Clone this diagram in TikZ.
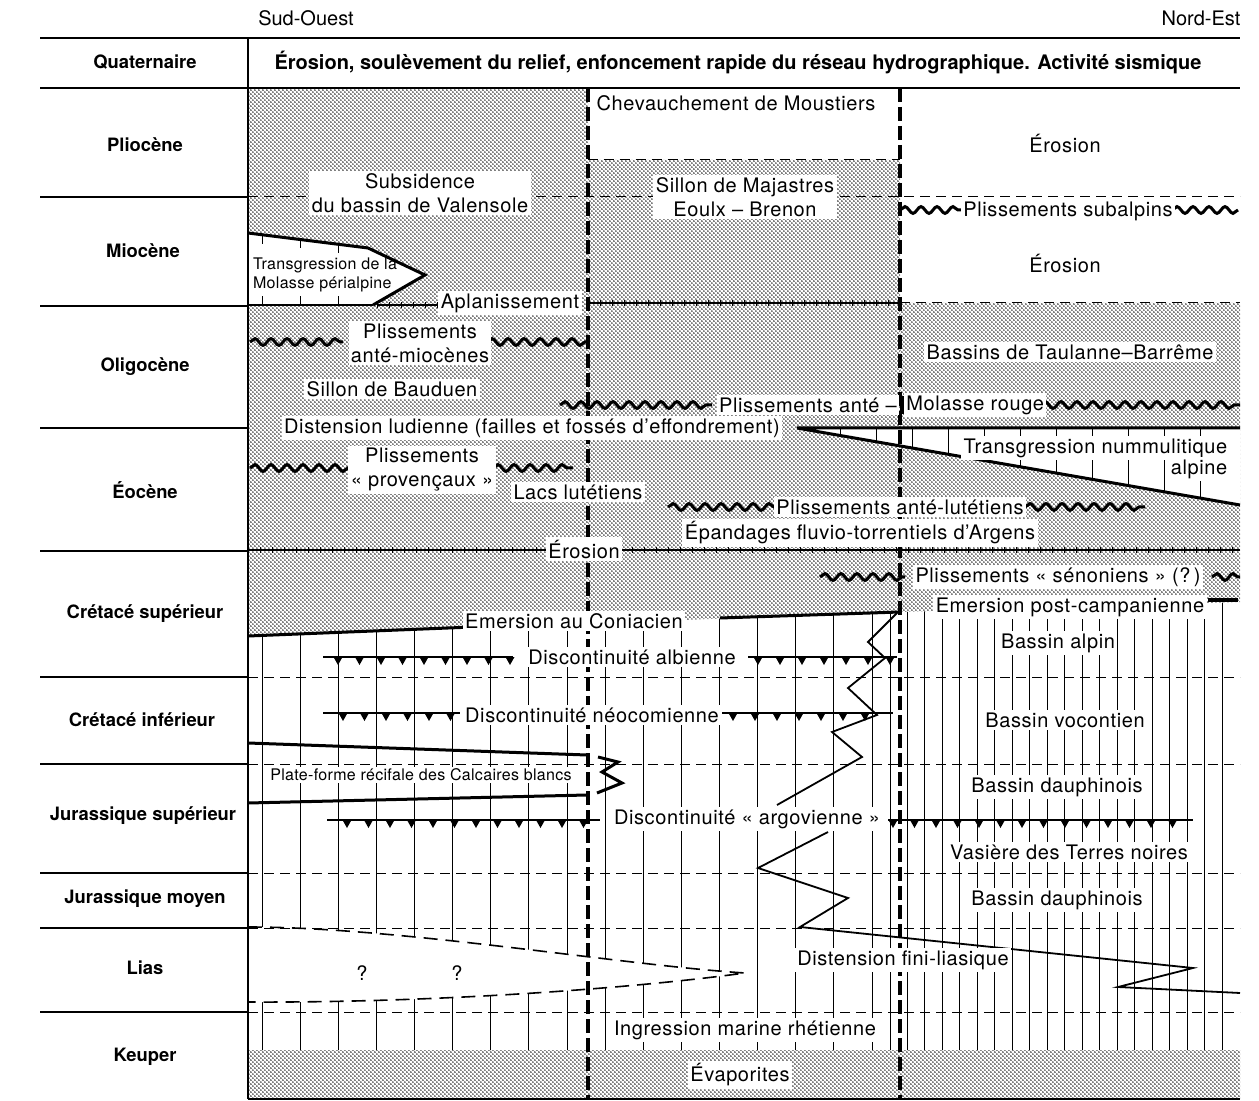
\documentclass[tikz,border=0pt]{standalone}
\usepackage{fontspec}
\setmainfont{TeX Gyre Heros}
\newfontfamily\spacedfont[LetterSpace=3,Ligatures=TeX]{TeX Gyre Heros}
\newfontfamily\notefont[LetterSpace=2,Ligatures=TeX]{TeX Gyre Heros}
\usetikzlibrary{positioning,decorations.pathmorphing,decorations.markings,patterns.meta}

\tikzdeclarepattern{
  name=stipple,
  type=uncolored,
  bounding box={(0pt,0pt) and (2.2pt,2.2pt)},
  tile size={(2.2pt,2.2pt)},
  code={
    \pgfpathcircle{\pgfqpoint{0.55pt}{0.55pt}}{0.45pt}
    \pgfpathcircle{\pgfqpoint{1.65pt}{1.65pt}}{0.45pt}
    \pgfusepath{fill}
  }
}

\begin{document}
\begin{tikzpicture}[x=0.5pt,y=-0.5pt,
  era/.style={font=\fontsize{9.2}{11}\selectfont\bfseries},
  lbl/.style={fill=white,inner sep=1.2pt,font=\spacedfont\fontsize{10}{12}\selectfont,align=center},
  note/.style={inner sep=1pt,font=\notefont\fontsize{8}{9.5}\selectfont,align=left},
  frame/.style={line width=1pt},
  rowline/.style={line width=0.8pt},
  rowdash/.style={line width=0.5pt,dash pattern=on 5pt off 3pt},
  lensdash/.style={line width=0.8pt,dash pattern=on 7pt off 4pt},
  fault/.style={line width=1.6pt,dash pattern=on 7pt off 2.5pt},
  vline/.style={line width=0.45pt},
  thickl/.style={line width=1.5pt},
  zig/.style={line width=0.9pt,line join=miter},
  disc/.style={line width=1pt},
  fold/.style={line width=1.5pt,decorate,decoration={snake,amplitude=1.7pt,segment length=8pt}},
  barb/.style={line width=0.6pt,postaction={decorate,decoration={markings,
      mark=between positions 0 and 1 step 6pt with {\draw[line width=0.5pt] (0pt,-1.6pt) -- (0pt,1.6pt);}}}},
  stip/.style={pattern=stipple,pattern color=black},
]
  \useasboundingbox (0,0) rectangle (1259,1101);

  % Stippled (detrital) series
  \fill[stip] (248,88) -- (588,88) -- (588,623.5) -- (248,636) -- cycle;
  \fill[stip] (588,160) -- (900,160) -- (900,612) -- (588,623.5) -- cycle;
  \fill[stip] (900,303) -- (1240,303) -- (1240,602) -- (900,612) -- cycle;
  \fill[stip] (248,1050) rectangle (1240,1098);
  \fill[white] (248,233) -- (368,248) -- (425,275) -- (373,305) -- (248,305) -- cycle;
  \fill[white] (797,428) -- (1240,428) -- (1240,505) -- cycle;

  % Limestone hatching
  \begin{scope}
    \clip (248,636) -- (900,612) -- (1240,602) -- (1240,1050) -- (248,1050) -- cycle;
    \foreach \k in {0,...,16}
      \draw[vline] ({262+38.125*\k},590) -- ++(0,470);
    \draw[vline] (890,590) -- ++(0,470);
    \foreach \k in {0,...,18}
      \draw[vline] ({907+17.5*\k},590) -- ++(0,470);
  \end{scope}

  % Lias lens
  \fill[white] (248,927) .. controls (400,927) and (620,965) .. (745,973)
               .. controls (620,990) and (420,1003) .. (248,1002) -- cycle;

  % Stage boundaries
  \foreach \y in {197,677,764,873,928,1012}
    \draw[rowdash] (248,\y) -- (1240,\y);
  \draw[rowdash] (588,160) -- (900,160);
  \draw[rowdash] (900,303) -- (1240,303);
  \draw[lensdash] (248,927) .. controls (400,927) and (620,965) .. (745,973)
                  .. controls (620,990) and (420,1003) .. (248,1002);

  % Transgressions and emersions
  \draw[thickl] (248,233) -- (368,248) -- (425,275) -- (373,305);
  \foreach \x in {262,300,338} {
    \draw[vline] (\x,{233+(\x-248)/120*15}) -- ++(0,9);
    \draw[vline] (\x,305) -- ++(0,-9);
  }
  \draw[thickl] (1240,428) -- (797,428) -- (1240,505);
  \foreach \x in {840,876,...,1235}
    \draw[vline] (\x,428) -- (\x,{428+(\x-797)/443*77});
  \draw[thickl] (248,636) -- (473,627);
  \draw[thickl] (720,618) -- (900,612);
  \draw[thickl] (1208,600) -- (1238,600);
  \draw[thickl] (248,743) -- (587,755);
  \draw[thickl] (248,803) -- (587,795);
  \draw[thickl] (598,757) -- (618,762) -- (602,772) -- (622,783) -- (597,793);

  % Facies interfingering
  \draw[zig] (897,613) -- (868,642) -- (885,658) -- (848,688) -- (877,715)
             -- (832,732) -- (862,757) -- (777,805);
  \draw[zig] (828,832) -- (758,868) -- (848,898) -- (800,927) -- (1193,968)
             -- (1118,987) -- (1240,993);

  % Discontinuities
  \draw[disc] (323,657) -- (513,657);
  \foreach \x in {338,359.5,...,510}
    \fill (\x-4.5,657) -- (\x+4.5,657) -- (\x,665) -- cycle;
  \draw[disc] (748,657) -- (897,657);
  \foreach \x in {758,780,...,895}
    \fill (\x-4.5,657) -- (\x+4.5,657) -- (\x,665) -- cycle;
  \draw[disc] (323,713) -- (460,713);
  \foreach \x in {343,364.5,...,455}
    \fill (\x-4.5,713) -- (\x+4.5,713) -- (\x,721) -- cycle;
  \draw[disc] (722,713) -- (893,713);
  \foreach \x in {733,755,...,880}
    \fill (\x-4.5,713) -- (\x+4.5,713) -- (\x,721) -- cycle;
  \draw[disc] (327,820) -- (600,820);
  \foreach \x in {347,368.5,...,590}
    \fill (\x-4.5,820) -- (\x+4.5,820) -- (\x,828) -- cycle;
  \draw[disc] (888,820) -- (1193,820);
  \foreach \x in {893,914.5,...,1190}
    \fill (\x-4.5,820) -- (\x+4.5,820) -- (\x,828) -- cycle;

  % Erosion / planation surfaces
  \draw[barb] (377,305) -- (440,305);
  \draw[barb] (588,303) -- (900,303);
  \draw[barb] (248,550) -- (548,550);
  \draw[barb] (620,550) -- (1240,550);

  % Folding phases
  \draw[fold] (900,210) -- (962,210);
  \draw[fold] (1172,210) -- (1238,210);
  \draw[fold] (250,342) -- (343,342);
  \draw[fold] (487,342) -- (587,342);
  \draw[fold] (560,405) -- (712,405);
  \draw[fold] (1040,405) -- (1240,405);
  \draw[fold] (250,468) -- (350,468);
  \draw[fold] (493,468) -- (573,468);
  \draw[fold] (668,507) -- (775,507);
  \draw[fold] (1025,507) -- (1145,507);
  \draw[fold] (820,577) -- (905,577);
  \draw[fold] (1212,577) -- (1240,577);

  % Faults
  \draw[fault] (588,88) -- (588,1098);
  \draw[fault] (900,88) -- (900,1098);

  % Table frame
  \draw[frame] (40,38) -- (1240,38);
  \draw[frame] (40,88) -- (1240,88);
  \draw[frame] (248,38) -- (248,1099);
  \draw[frame] (248,1099) -- (1240,1099);
  \foreach \y in {197,306,428,551,677,764,873,928,1012}
    \draw[rowline] (40,\y) -- (248,\y);
  \draw[rowline] (248,305) -- (373,305);

  % Orientation
  \node[font=\fontsize{10}{12}\selectfont] (so) at (306,18) {Sud-Ouest};
  \node[font=\fontsize{10}{12}\selectfont] (ne) at (1201,18) {Nord-Est};

  % Stratigraphic column
  \node[era] (quat) at (145,62) {Quaternaire};
  \node[era] (plio) at (145,145) {Pliocène};
  \node[era] (mio) at (143,251) {Miocène};
  \node[era] (oligo) at (145,367) {Oligocène};
  \node[era] (eoc) at (145,490) {Éocène};
  \node[era] (crs) at (145,614) {Crétacé supérieur};
  \node[era] (cri) at (142,720) {Crétacé inférieur};
  \node[era] (jrs) at (143,816) {Jurassique supérieur};
  \node[era] (jrm) at (145,899) {Jurassique moyen};
  \node[era] (lias) at (145,968) {Lias};
  \node[era] (keup) at (145,1057) {Keuper};

  % Events
  \node[era,font=\fontsize{10}{12}\selectfont\bfseries] (qevt) at (738,62) {Érosion, soulèvement du relief, enfoncement rapide du réseau hydrographique. Activité sismique};
  \node[lbl] (subs) at (420,193) {Subsidence\\du bassin de Valensole};
  \node[lbl,fill=none] (chev) at (736,103) {Chevauchement de Moustiers};
  \node[lbl] (majas) at (745,197) {Sillon de Majastres\\Eoulx – Brenon};
  \node[lbl,fill=none] (ero1) at (1065,143) {Érosion};
  \node[lbl] (psub) at (1068,211) {Plissements subalpins};
  \node[lbl,fill=none] (ero2) at (1065,263) {Érosion};
  \node[note] (mola) at (325,275) {Transgression de la\\Molasse périalpine};
  \node[lbl] (apla) at (510,303) {Aplanissement};
  \node[lbl] (pmio) at (420,343) {Plissements\\anté-miocènes};
  \node[lbl] (baud) at (392,389) {Sillon de Bauduen};
  \node[lbl] (taul) at (1070,352) {Bassins de Taulanne–Barrême};
  \node[lbl] (pante) at (808,405) {Plissements anté –};
  \node[lbl,right=2pt of pante] (molr) {Molasse rouge};
  \node[lbl] (ludi) at (532,428) {Distension ludienne (failles et fossés d’effondrement)};
  \node[lbl,anchor=east] (tnum) at (1230,448) {Transgression nummulitique};
  \node[lbl,anchor=east] (alp) at (1230,469) {alpine};
  \node[lbl] (prov) at (422,470) {Plissements\\« provençaux »};
  \node[lbl] (lacs) at (578,492) {Lacs lutétiens};
  \node[lbl] (plut) at (900,507) {Plissements anté-lutétiens};
  \node[lbl] (arg) at (860,533) {Épandages fluvio-torrentiels d’Argens};
  \node[lbl] (ero3) at (584,549) {Érosion};
  \node[lbl] (psen) at (1058,577) {Plissements « sénoniens » (?\,)};
  \node[lbl] (econ) at (574,621) {Emersion au Coniacien};
  \node[lbl] (ecamp) at (1070,607) {Emersion post-campanienne};
  \node[lbl] (dalb) at (632,657) {Discontinuité albienne};
  \node[lbl] (balp) at (1058,643) {Bassin alpin};
  \node[lbl] (dneo) at (592,715) {Discontinuité néocomienne};
  \node[lbl] (bvoc) at (1065,720) {Bassin vocontien};
  \node[note,fill=white] (calc) at (421,775) {Plate-forme récifale des Calcaires blancs};
  \node[lbl] (bdau1) at (1057,787) {Bassin dauphinois};
  \node[lbl] (dargo) at (747,819) {Discontinuité « argovienne »};
  \node[lbl] (vas) at (1069,852) {Vasière des Terres noires};
  \node[lbl] (bdau2) at (1057,900) {Bassin dauphinois};
  \node[lbl,fill=none] (q1) at (362,973) {?};
  \node[lbl,fill=none] (q2) at (457,973) {?};
  \node[lbl] (dfin) at (903,960) {Distension fini-liasique};
  \node[lbl] (rhet) at (745,1030) {Ingression marine rhétienne};
  \node[lbl] (evap) at (740,1075) {Évaporites};
  \draw[line width=1.6pt] (902,396) -- (902,414);
\end{tikzpicture}
\end{document}
